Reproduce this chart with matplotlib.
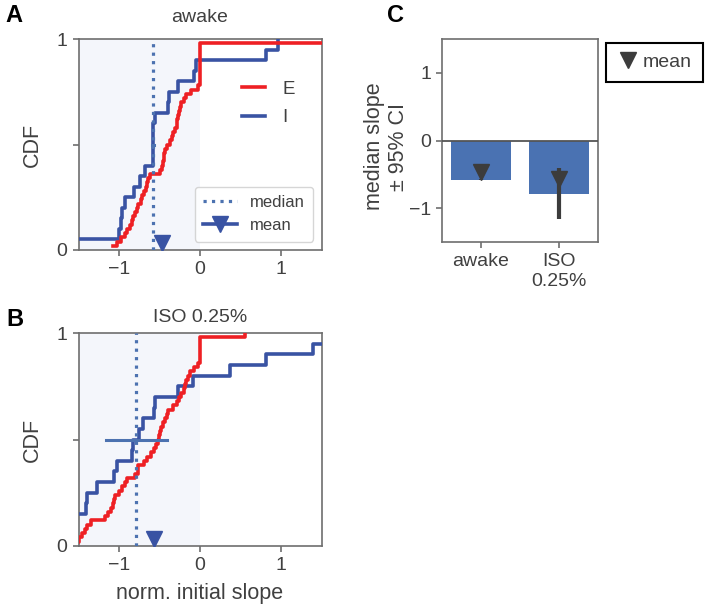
import numpy as np
import matplotlib
matplotlib.use('Agg')
import matplotlib.pyplot as plt
from matplotlib.lines import Line2D

# ---------------- data ----------------
conditions = ['awake', 'ISO 0.25%']
cond_ticklabels = ['awake', 'ISO\n0.25%']

# normalised initial slopes, excitatory (E) and inhibitory (I) populations
E_awake = [-1.07, -1.02, -0.98, -0.93, -0.90, -0.87, -0.845, -0.83, -0.80, -0.78,
           -0.76, -0.73, -0.71, -0.69, -0.67, -0.655, -0.64, -0.62, -0.50, -0.47,
           -0.455, -0.45, -0.44, -0.435, -0.41, -0.37, -0.35, -0.33, -0.31, -0.29,
           -0.28, -0.27, -0.26, -0.245, -0.23, -0.20, -0.17, -0.11, -0.025, 0.0,
           0.0, 0.0, 0.0, 0.0, 0.0, 0.0, 0.0, 0.0, 0.0, 1.8]
I_awake = [-1.6, -1.0, -0.98, -0.965, -0.93, -0.82, -0.745, -0.68, -0.585, -0.58,
           -0.578, -0.576, -0.555, -0.39, -0.385, -0.27, -0.07, -0.045, 0.81, 0.967]
E_iso = [-1.6, -1.49, -1.46, -1.42, -1.39, -1.35, -1.17, -1.13, -1.10, -1.08,
         -1.06, -1.05, -1.00, -0.96, -0.92, -0.905, -0.80, -0.77, -0.76, -0.69,
         -0.65, -0.61, -0.57, -0.54, -0.52, -0.505, -0.495, -0.48, -0.455, -0.435,
         -0.41, -0.39, -0.33, -0.29, -0.26, -0.23, -0.20, -0.185, -0.17, -0.15,
         -0.12, -0.08, -0.02, 0.0, 0.0, 0.0, 0.0, 0.0, 0.0, 0.56]
I_iso = [-2.2, -1.9, -1.7, -1.41, -1.40, -1.275, -1.06, -1.03, -0.835, -0.83,
         -0.75, -0.70, -0.565, -0.56, -0.27, -0.085, 0.37, 0.82, 1.40, 2.0]

mean_I = [-0.47, -0.57]          # mean of I population
ci_low_I = [-0.59, -1.16]        # 95% CI of the median
ci_high_I = [-0.565, -0.41]

# ---------------- style ----------------
RED = '#ee2024'
BLUE = '#3953a3'
MED = '#4c72b0'
BAR = '#4a72b2'
SHADE = '#f4f6fb'
TXT = '#404040'
SPINE = '#6e6e6e'
DARK = '#3c3c3c'

plt.rcParams['font.family'] = ['Liberation Sans', 'DejaVu Sans']
plt.rcParams.update({
    'axes.edgecolor': SPINE, 'axes.linewidth': 1.2,
    'xtick.color': SPINE, 'ytick.color': SPINE,
    'xtick.labelcolor': TXT, 'ytick.labelcolor': TXT,
    'axes.labelcolor': TXT, 'text.color': TXT,
    'xtick.major.size': 4.5, 'ytick.major.size': 4.5,
    'xtick.major.width': 1.2, 'ytick.major.width': 1.2,
    'xtick.labelsize': 14, 'ytick.labelsize': 14,
})

W, H = 706, 611
fig = plt.figure(figsize=(W / 100, H / 100), dpi=100)


def px_axes(l, r, t, b):
    return fig.add_axes([l / W, 1 - b / H, (r - l) / W, (b - t) / H])


axA = px_axes(78.5, 321.5, 39, 250)
axB = px_axes(78.5, 321.5, 333, 546)
axC = px_axes(442, 598, 39, 242)


def cdf_panel(ax, E, I, mean, lo, hi, title, pad):
    ax.axvspan(-1.5, 0, color=SHADE, zorder=0, lw=0)
    for s, c in ((I, BLUE), (E, RED)):
        xs = np.sort(np.asarray(s))
        ys = np.arange(1, len(xs) + 1) / len(xs)
        ax.step(xs, ys, where='post', color=c, lw=2.6, zorder=3)
    med = np.median(I)
    ax.axvline(med, color=MED, ls=':', lw=2.3, zorder=4)
    ax.plot([lo, hi], [0.5, 0.5], color=MED, lw=2.2, zorder=4)
    ax.plot([mean], [0.035], marker='v', color=BLUE, ms=11, ls='none', zorder=5)
    ax.set_xlim(-1.5, 1.5)
    ax.set_ylim(0, 1)
    ax.set_yticks([0, 0.5, 1])
    ax.set_yticklabels(['0', '', '1'])
    ax.set_xticks([-1, 0, 1])
    ax.set_title(title, fontsize=14, color=TXT, pad=pad)
    ax.set_ylabel('CDF', fontsize=15.5)
    ax.yaxis.set_label_coords(-0.148, 0.5)


cdf_panel(axA, E_awake, I_awake, mean_I[0], ci_low_I[0], ci_high_I[0], conditions[0], 12)
cdf_panel(axB, E_iso, I_iso, mean_I[1], ci_low_I[1], ci_high_I[1], conditions[1], 8)
axB.set_xlabel('norm. initial slope', fontsize=15.5)
axB.xaxis.set_label_coords(0.5, -0.175)

# legends in panel A
leg1 = axA.legend(handles=[Line2D([], [], color=RED, lw=2.6),
                           Line2D([], [], color=BLUE, lw=2.6)],
                  labels=['E', 'I'], loc='upper left', bbox_to_anchor=(0.642, 0.838),
                  borderaxespad=0, frameon=False, fontsize=13.5,
                  handlelength=1.25, handletextpad=0.9, labelspacing=0.6)
axA.add_artist(leg1)
axA.legend(handles=[Line2D([], [], color=MED, ls=':', lw=2.3),
                    Line2D([], [], color=BLUE, lw=2.6, marker='v', ms=11)],
           labels=['median', 'mean'], loc='lower right', fontsize=12,
           handlelength=2.0, labelcolor=TXT, borderpad=0.5)

# ---------------- panel C ----------------
xpos = np.arange(len(conditions))
medians = [np.median(I_awake), np.median(I_iso)]
axC.bar(xpos, medians, width=0.78, color=BAR, zorder=2)
axC.axhline(0, color='#555555', lw=1.3, zorder=3)
axC.vlines(xpos, ci_low_I, ci_high_I, color=DARK, lw=3, zorder=4)
axC.plot(xpos, mean_I, marker='v', color=DARK, ms=12, ls='none', zorder=5)
axC.set_xlim(-0.5, 1.5)
axC.set_ylim(-1.5, 1.5)
axC.set_yticks([-1, 0, 1])
axC.set_xticks(xpos)
axC.set_xticklabels(cond_ticklabels)
axC.set_ylabel('median slope\n\u00b1 95% CI', fontsize=15.5, linespacing=1.2)
axC.yaxis.set_label_coords(-0.21, 0.47)
legC = axC.legend(handles=[Line2D([], [], color=DARK, marker='v', ms=12, ls='none')],
                  labels=['mean'], loc='upper left',
                  bbox_to_anchor=(606 / W, 1 - 43 / H), bbox_transform=fig.transFigure,
                  borderaxespad=0, fontsize=14, fancybox=False, framealpha=1,
                  edgecolor='black', handlelength=1.2, handletextpad=0.15,
                  borderpad=0.55)
legC.get_frame().set_linewidth(1.5)

# panel letters
for lab, x, y in (('A', 14, 15), ('B', 15, 320), ('C', 396, 15)):
    fig.text(x / W, 1 - y / H, lab, fontsize=17, fontweight='bold', color='black',
             ha='center', va='center')

fig.savefig('out.png', dpi=100)
